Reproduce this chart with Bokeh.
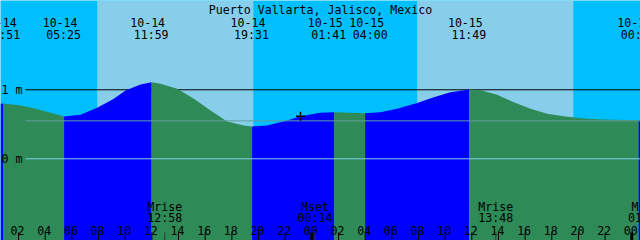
from bokeh.plotting import figure
from bokeh.models import Range1d, ColumnDataSource
from bokeh.core.properties import value
from bokeh.embed import file_html
from bokeh.resources import INLINE

# ---------------- data ----------------
title = "Puerto Vallarta, Jalisco, Mexico"

# window: hours since 10-14 00:00
window_start = 0.645
window_hours = 48.0

# tide extremes
tide_dates = ["10-14", "10-14", "10-14", "10-14", "10-15", "10-15", "10-15", "10-16"]
tide_clock = ["00:51", "05:25", "11:59", "19:31", "01:41", "04:00", "11:49", "00:31"]
tide_kind = ["high", "low", "high", "low", "high", "low", "high", "low"]

curve_hours = [0.645, 0.85, 2.15, 3.14, 4.40, 5.417, 6.65, 7.90, 9.15, 10.02, 11.15, 11.983,
               12.65, 13.90, 15.15, 16.40, 17.65, 18.90, 19.517, 20.65, 22.15, 23.15, 24.65,
               25.683, 26.90, 28.00, 29.15, 30.40, 31.90, 33.15, 34.40, 35.817, 36.65, 37.90,
               39.15, 40.40, 41.66, 42.90, 44.15, 45.41, 46.65, 48.517, 48.66]
curve_levels = [0.797, 0.800, 0.772, 0.733, 0.667, 0.612, 0.638, 0.739, 0.870, 0.990, 1.077, 1.110,
                1.087, 1.014, 0.870, 0.700, 0.540, 0.483, 0.468, 0.483, 0.555, 0.617, 0.667,
                0.675, 0.667, 0.661, 0.675, 0.725, 0.810, 0.893, 0.965, 1.004, 0.994, 0.928,
                0.820, 0.725, 0.652, 0.617, 0.588, 0.574, 0.565, 0.559, 0.560]

# sun
sunrise_clock = ["10-14 07:54", "10-15 07:54"]
sunset_clock = ["10-14 19:37", "10-15 19:37"]

# moon
moon_names = ["Mrise", "Mset", "Mrise", "Mset"]
moon_clock = ["10-14 12:58", "10-15 00:14", "10-15 13:48", "10-16 01:02"]

# depth marks
depth_levels = [0, 1]
depth_labels = ["0 m", "1 m"]
mid_level = 0.55

# "now" mark
now_clock = "10-14 23:09"
now_level = 0.617

# hour ticks every 2 hours
hour_ticks = list(range(2, 49, 2))
hour_labels = ["%02d" % (h % 24) for h in hour_ticks]

# ---------------- helpers ----------------
def to_hours(date, clock):
    day = int(date.split("-")[1]) - 14
    hh, mm = clock.split(":")
    return day * 24 + int(hh) + int(mm) / 60.0

def dt_hours(s):
    d, c = s.split(" ")
    return to_hours(d, c)

tide_h = [to_hours(d, c) for d, c in zip(tide_dates, tide_clock)]
sunrise_h = [dt_hours(s) for s in sunrise_clock]
sunset_h = [dt_hours(s) for s in sunset_clock]
moon_h = [dt_hours(s) for s in moon_clock]
moon_times = [s.split(" ")[1] for s in moon_clock]
now_h = dt_hours(now_clock)

# ---------------- styles ----------------
NIGHT = "#00BFFF"
DAY = "#87CEEB"
RISE = "#0000FF"
FALL = "#2E8B57"
FONT = value("DejaVu Sans Mono")
FS = value("11.6px")

X0, X1 = window_start, window_start + window_hours + 0.01
YB, YT = -1.184, 2.294

p = figure(width=640, height=240, x_range=Range1d(X0, X1), y_range=Range1d(YB, YT),
           output_backend="svg", toolbar_location=None, min_border=0,
           x_axis_location=None, y_axis_location=None)
p.grid.visible = False
p.outline_line_color = None
p.background_fill_color = NIGHT
p.border_fill_color = NIGHT
p.extra_x_ranges = {"px": Range1d(0, 640)}
p.extra_y_ranges = {"px": Range1d(240, 0)}

# day bands
p.quad(left=sunrise_h, right=sunset_h, bottom=YB, top=YT, fill_color=DAY, line_color=None)

# 1 m line (under the water)
p.segment(x0=[25], x1=[640], y0=[depth_levels[1]], y1=[depth_levels[1]],
          x_range_name="px", line_color="black", line_width=1)

# water fill, split by rising / falling
bounds = [X0] + tide_h + [X1]
for i in range(len(bounds) - 1):
    a, b = bounds[i], bounds[i + 1]
    xs = [h for h in curve_hours if a - 0.01 <= h <= b + 0.01]
    ys = [l for h, l in zip(curve_hours, curve_levels) if a - 0.01 <= h <= b + 0.01]
    if len(xs) < 2:
        continue
    if i < len(tide_kind):
        rising = tide_kind[i] == "high"
    else:
        rising = tide_kind[-1] == "low"
    p.varea(x=xs, y1=[YB] * len(xs), y2=ys, fill_color=RISE if rising else FALL)

# mid and 0 m lines
p.segment(x0=[25], x1=[640], y0=[mid_level], y1=[mid_level],
          x_range_name="px", line_color="#5F9EA0", line_width=1)
p.segment(x0=[25], x1=[640], y0=[depth_levels[0]], y1=[depth_levels[0]],
          x_range_name="px", line_color=DAY, line_width=1)

# depth labels
p.text(x=[1, 1], y=depth_levels, text=depth_labels, x_range_name="px",
       text_font=FONT, text_font_size=FS, text_baseline="middle", text_align="left",
       text_color="black")

# title
p.text(x=[320], y=[9.5], text=[title], x_range_name="px", y_range_name="px",
       text_font=FONT, text_font_size=FS, text_baseline="alphabetic", text_align="center",
       text_color="black")

# tide labels
nudge = [0, 0, 0, 0, -5, 5.5, 0, 0]
src = ColumnDataSource(dict(x=tide_h, d=tide_dates, t=tide_clock,
                            od=[n - 4 for n in nudge], ot=[n - 0.5 for n in nudge],
                            yd=[22] * len(tide_h), yt=[34] * len(tide_h)))
p.text(x="x", y="yd", text="d", x_offset="od", source=src, y_range_name="px",
       text_font=FONT, text_font_size=FS, text_baseline="alphabetic", text_align="center",
       text_color="black")
p.text(x="x", y="yt", text="t", x_offset="ot", source=src, y_range_name="px",
       text_font=FONT, text_font_size=FS, text_baseline="alphabetic", text_align="center",
       text_color="black")

# moon labels
p.text(x=moon_h, y=[206] * len(moon_h), text=moon_names, y_range_name="px",
       text_font=FONT, text_font_size=FS, text_baseline="alphabetic", text_align="center",
       text_color="black")
p.text(x=moon_h, y=[217.5] * len(moon_h), text=moon_times, y_range_name="px",
       text_font=FONT, text_font_size=FS, text_baseline="alphabetic", text_align="center",
       text_color="black")

# hour labels and ticks
p.text(x=hour_ticks, y=[229.5] * len(hour_ticks), text=hour_labels, x_offset=-1,
       y_range_name="px", text_font=FONT, text_font_size=FS, text_baseline="alphabetic",
       text_align="center", text_color="black")
minor = [h for h in hour_ticks if h % 24 != 0]
major = [h for h in hour_ticks if h % 24 == 0]
p.segment(x0=minor, x1=minor, y0=[232] * len(minor), y1=[240] * len(minor),
          y_range_name="px", line_color="black", line_width=1)
p.segment(x0=major, x1=major, y0=[232] * len(major), y1=[240] * len(major),
          y_range_name="px", line_color="black", line_width=3)
p.segment(x0=moon_h, x1=moon_h, y0=[232] * len(moon_h), y1=[240] * len(moon_h),
          y_range_name="px", line_color="#333333", line_width=1)

# now mark
p.scatter(x=[now_h], y=[now_level], marker="cross", size=9, line_color="black", line_width=1.5)

open("out.html", "w").write(file_html(p, INLINE))
